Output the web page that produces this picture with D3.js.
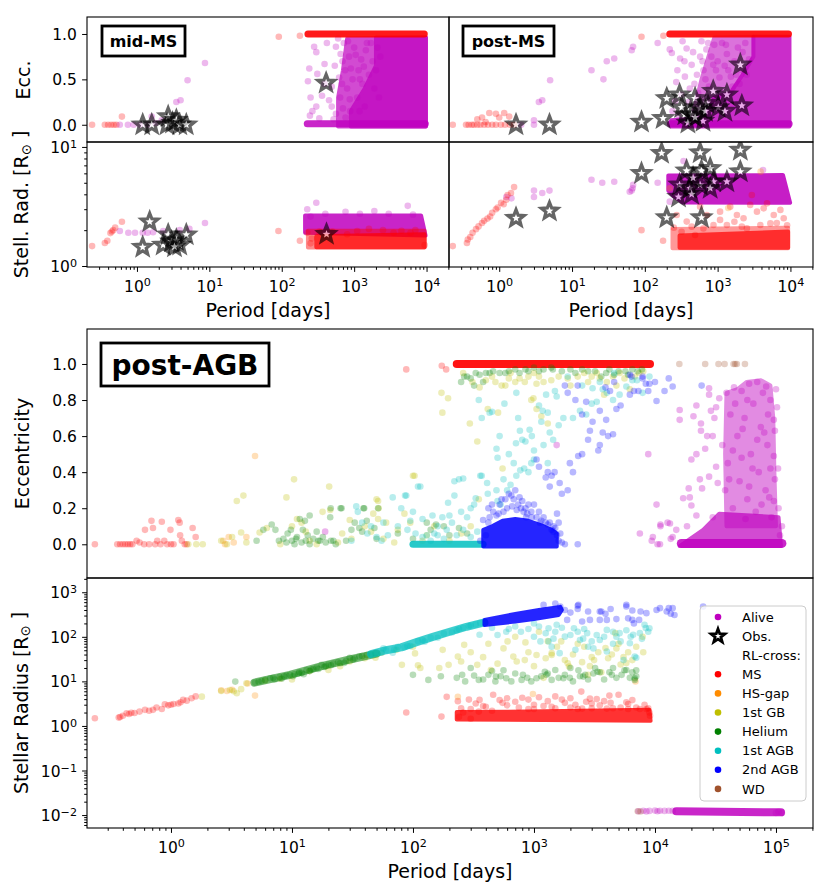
<!DOCTYPE html>
<html>
<head>
<meta charset="utf-8">
<title>Period - eccentricity - radius</title>
<script src="https://cdn.jsdelivr.net/npm/d3@7"></script>
<style>
  body { margin: 0; background: #fff; }
  svg { font-family: "DejaVu Sans", sans-serif; }
</style>
</head>
<body>
<svg id="fig" width="830" height="895"></svg>
<script>
// colours (matplotlib short names)
const C = {alive: "#bf00bf", ms: "#ff0000", hs: "#ff8c00", gb: "#bfbf00",
           he: "#008000", agb1: "#00bfbf", agb2: "#0000ff", wd: "#a0522d"};

// ticks
const periodTicksTop = [1, 10, 100, 1000, 10000];
const periodTicksBottom = [1, 10, 100, 1000, 10000, 100000];
const eccTicksTop = [0, 0.5, 1.0];
const eccTicksBottom = [0, 0.2, 0.4, 0.6, 0.8, 1.0];
const radTicksTop = [1, 10];
const radTicksBottom = [0.01, 0.1, 1, 10, 100, 1000];

// ---------------- mid-MS (top left) : [period days, value] ----------------
const midEccAlive = [[0.58,0],[0.75,0],[0.9,0],[1.1,0],[1.4,0],[1.6,0.09],[1.8,0.02],[2.2,0.05],[3.5,0.25],[4.0,0.27],[5.0,0.49],[8.7,0.68],
  [230,0.48],[240,0.62],[280,0.86],[300,0.8],[250,0.3],[265,0.15],[245,0.1],[310,0.56],[390,0.67],[450,0.27],[490,0.2],[490,0.42],[560,0.86],
  [620,0.52],[690,0.7],[820,0.92],[870,0.28],[760,0.08],[330,0.07],[560,0.12],[390,0.45],[950,0.5],[1050,0.77],[1100,0.3],[1190,0.15],
  [1360,0.64],[1500,0.9],[750,0.6],[800,0.4],[850,0.75],[1000,0.85],[1150,0.6],[1250,0.72],[1300,0.45],[1400,0.2],[1450,0.82],[1600,0.55],
  [1700,0.9],[1800,0.7],[1900,0.4],[2000,0.6],[2100,0.85],[2200,0.3],[2300,0.75],[640,0.3],[700,0.18],[900,0.62],[1200,0.5],
  [600,0.95],[720,0.9],[650,0.78],[540,0.65],[420,0.9],[360,0.32],[300,0.2],[520,0.06],[680,0.45],[880,0.15]];
const midEccAliveHalo = [[800,0.95],[9800,0.96],[9800,-0.02],[600,-0.02],[600,0.3],[700,0.6]];
const midEccAliveCore = [[2000,0.96],[9800,0.96],[9800,-0.02],[900,-0.02],[900,0.15],[1400,0.4],[2000,0.65]];
const midEccAliveBand = [[225,0.01],[9600,0.01]];
const midEccMS = [[0.24,0],[0.36,0],[0.4,0],[0.44,0],[0.48,0],[0.52,0],[0.62,0.09],[91,0.97],[178,0.98]];
const midEccMSBand = [[230,1.0],[9300,1.0]];
const midEccObs = [[1.2,0],[1.6,0],[2.6,0],[2.7,0.09],[3.1,0.02],[3.5,0.05],[3.9,0],[4.8,0],[410,0.46]];

const midRadAlive = [[0.58,1.97],[0.76,1.9],[0.94,1.9],[1.2,1.9],[1.4,1.9],[1.67,1.92],[2.3,1.97],[3.9,2.0],[5.3,2.05],[8.7,2.3],
  [225,3.0],[300,3.4],[760,2.85],[1900,2.9],[5500,3.2],[400,2.75],[1200,2.75],[3000,2.75],[250,2.6],[6500,2.7]];
const midRadAliveCore = [[210,2.66],[8400,2.66],[9700,1.8],[210,1.9]];
const midRadMS = [[0.24,1.47],[0.36,1.56],[0.39,1.63],[0.43,1.89],[0.45,1.95],[0.47,2.0],[0.5,2.1],[0.62,2.35],[90,1.97],[178,1.63],
  [225,1.9],[260,1.7],[330,1.95],[500,1.95],[1100,1.97],[1600,2.05],[2500,2.0],[4500,1.98],[6000,1.9],[7000,2.0],[800,1.85],[400,1.8],
  [3500,1.9],[250,1.55],[9400,1.5]];
const midRadMSHalo = [[230,1.98],[9400,1.98],[9400,1.43],[230,1.43]];
const midRadMSCore = [[300,1.78],[9400,1.85],[9400,1.44],[300,1.44]];
const midRadObs = [[1.5,2.35],[1.2,1.44],[2.3,1.5],[2.7,1.83],[3.0,1.6],[3.5,1.65],[3.9,1.5],[4.8,1.83],[3.3,1.45],[415,1.85]];

// ---------------- post-MS (top right) ----------------
const postEccAlive = [[2.0,0],[3.0,0.05],[3.0,0],[3.5,0.25],[3.9,0.27],[5.0,0.49],[18.5,0.6],[27,0.5],[30,0.7],[38,0.73],[66,0.82],[69,0.86],
  [150,0.9],[220,0.83],[235,0.79],[305,0.73],[375,0.84],[440,0.66],[355,0.53],[520,0.55],[575,0.75],[700,0.83],[870,0.66],[900,0.88],
  [415,0.4],[480,0.45],[1060,0.52],[1340,0.78],[1520,0.53],[270,0.47],[320,0.33],[260,0.26],[240,0.15],[290,0.1],[640,0.6],[760,0.42],
  [1150,0.9],[1250,0.65],[1700,0.7],[1900,0.85],[2100,0.6],[2400,0.9],[2700,0.72],[1100,0.35],[1600,0.42],[2000,0.45],[2500,0.55],
  [330,0.92],[600,0.92],[800,0.3],[950,0.6],[280,0.6],[350,0.7],[400,0.25],[460,0.8],[540,0.35],[620,0.7],[680,0.5],[740,0.9],
  [820,0.75],[1000,0.7],[1300,0.88],[1400,0.6],[1800,0.55],[2200,0.8]];
const postEccAliveHalo = [[900,0.96],[3100,0.97],[3100,0.75],[2200,0.55],[1500,0.35],[900,0.3],[700,0.08],[450,0.1],[600,0.5]];
const postEccAliveCore = [[3100,0.97],[9700,0.97],[9700,-0.02],[230,-0.02],[230,0.05],[700,0.08],[900,0.3],[1500,0.35],[2200,0.55],[3100,0.75]];
const postEccAliveBand = [[225,0.01],[9600,0.01]];
const postEccMS = [[0.23,0],[0.35,0],[0.38,0],[0.42,0],[0.45,0],[0.5,0],[0.55,0],[0.62,0],[0.7,0],[0.8,0],[0.9,0],[1.05,0],[1.2,0],[1.4,0],
  [1.6,0],[0.5,0.06],[0.58,0.08],[0.73,0.13],[0.9,0.12],[1.0,0.08],[1.17,0.13],[1.37,0.09],[0.65,0.03],[90,0.97],[180,0.98]];
const postEccMSBand = [[220,1.0],[9400,1.0]];
const postEccObs = [[1.7,0],[4.9,0],[90,0.03],[178,0.07],[200,0.29],[300,0.33],[355,0.11],[440,0.11],[490,0.29],[575,0.18],[710,0.24],
  [630,0.04],[390,0.02],[490,0.08],[870,0.37],[1340,0.33],[1020,0.19],[1260,0.15],[2150,0.21],[2050,0.66],[680,0.15],[320,0.19]];

const postRadAlive = [[1.25,3.8],[1.47,3.7],[3.0,4.3],[3.0,3.8],[3.9,4.1],[4.9,4.3],[18.5,5.3],[26,5.0],[38,5.1],[62,4.2],[66,4.3],[68,4.5],
  [69,4.8],[150,5.0],[220,3.47],[245,4.8],[340,7.6],[4200,6.4]];
const postRadAliveCore = [[210,5.75],[7900,5.8],[9900,3.4],[330,3.42],[250,3.85],[210,4.3]];
const postRadMS = [[0.23,1.47],[0.36,1.56],[0.37,1.67],[0.4,1.75],[0.43,1.9],[0.48,2.04],[0.52,2.15],[0.58,2.3],[0.62,2.4],[0.69,2.5],
  [0.75,2.6],[0.8,2.8],[0.9,3.0],[0.95,3.1],[1.06,3.4],[1.15,3.3],[1.25,3.6],[1.3,3.95],[1.45,4.1],[1.6,4.6],[90,2.0],[178,1.63],
  [274,2.68],[376,2.36],[574,3.15],[710,2.68],[1080,2.86],[1490,3.15],[1840,2.68],[2270,2.52],[2800,3.26],[3470,2.86],[4290,3.05],
  [5900,2.68],[7280,2.96],[8090,2.52],[5300,2.28],[3860,2.21],[2520,2.07],[1340,2.21],[877,2.21],[638,2.07],[440,2.14],[1080,2.44],
  [2150,2.14],[4770,3.36],[320,1.94],[490,1.82],[2950,3.95],[6500,2.3],[9000,2.2],[1700,2.35],[250,2.1]];
const postRadMSHalo = [[240,2.05],[9300,2.1],[9300,1.41],[240,1.41]];
const postRadMSCore = [[300,1.8],[9300,1.95],[9300,1.42],[300,1.42]];
const postRadHS = [[220,4.5],[1400,3.07],[3900,6.2]];
const postRadObs = [[1.7,2.52],[4.9,2.9],[170,8.85],[575,8.95],[2050,9.4],[90,6.0],[375,6.3],[600,6.3],[790,6.6],[2050,6.2],[300,4.8],
  [415,4.5],[575,4.8],[880,5.1],[1340,5.1],[790,4.5],[290,3.8],[440,4.0],[200,2.55],[600,2.55],[460,5.5]];

// ---------------- post-AGB (bottom) : eccentricity ----------------
const agbEccAlive = [[18.8,0.07],[1540,0.55],[7500,0.06],[8800,0.5],[10300,0.22],[9400,0.02],[9600,0.04],[10500,0],[11000,0],[11100,0.11],
  [11100,0.1],[12700,0.12],[13300,0.115],[13500,0.03],[14000,0.04],[15000,0.08],[16000,0.745],[16000,0.69],[17100,0.255],[18400,0.1],
  [19000,0.31],[19400,0.26],[20000,0.47],[20000,0.215],[20800,0.71],[22000,0.77],[22000,0.5],[22000,0.16],[23500,0.36],[24000,0.67],
  [24000,0.63],[24500,0.31],[26000,0.53],[27000,0.6],[28000,0.83],[28000,0.865],[28000,0.375],[29000,0.74],[30000,0.6],[30000,0.15],
  [31000,0.7],[32000,0.76],[32000,0.43],[33000,0.34],[34000,0.81],[39000,0.84],[60000,0.89],[83000,0.875],[100000,0.86],[102000,0.76],
  [96000,0.69],[98000,0.63],[104000,0.42],[96000,0.49],[98000,0.36],[96000,0.24],[45000,0.87],[52000,0.85],[70000,0.9],[90000,0.8],
  [42000,0.72],[48000,0.6],[55000,0.7],[65000,0.78],[75000,0.65],[85000,0.55],[40000,0.45],[50000,0.35],[62000,0.5],[72000,0.4],
  [82000,0.3],[92000,0.15],[44000,0.2],[58000,0.25],[68000,0.18],[36000,0.55],[38000,0.3],[105000,0.2],[108000,0.05],[112000,0.1],
  [46000,0.78],[53000,0.64],[58000,0.8],[64000,0.42],[78000,0.84],[86000,0.72],[44000,0.52],[52000,0.48],[70000,0.58],[80000,0.62],
  [90000,0.42],[60000,0.32],[76000,0.22],[88000,0.26],[41000,0.36],[56000,0.14]];
const agbEccAliveCore = [[39000,0.84],[48000,0.86],[57000,0.9],[75000,0.91],[90000,0.88],[95000,0.7],[97000,0.4],[100000,0.1],[39000,0.1],[38000,0.5]];
const agbEccAliveLow = [[16000,-0.01],[110000,-0.01],[105000,0.15],[34000,0.17],[25000,0.08]];
const agbEccAliveBand = [[16500,0.005],[112000,0.005]];
const agbEccMS = [[0.235,0],[0.36,0],[0.38,0],[0.4,0],[0.42,0],[0.44,0],[0.46,0],[0.48,0],[0.52,0.02],[0.55,0.01],[0.6,0],[0.61,0.08],
  [0.66,0],[0.69,0.13],[0.71,0.09],[0.74,0],[0.77,0.02],[0.82,0],[0.84,0.125],[0.88,0.02],[0.93,0],[0.99,0.08],[1.0,0],[1.05,0],
  [1.15,0.135],[1.18,0.12],[1.19,0.05],[1.23,0.02],[1.3,0],[1.35,0],[1.51,0.09],[1.6,0.04],[88,0.97],[173,0.99],[188,0.97]];
const agbEccMSBand = [[230,1.0],[9100,1.0]];
const agbEccHS = [[2.7,0.02],[2.8,0],[3.0,0.04],[3.3,0.01],[4.2,0.04],[4.95,0.49]];
const agbEccGB = [[1.39,0],[1.62,0],[1.83,0],[2.6,0.02],[2.9,0],[3.2,0.04],[3.8,0.065],[3.5,0.24],[3.97,0.27],[4.2,0.01],[5.4,0.065],
  [6.2,0.09],[8,0],[9.0,0.26],[10.4,0.36],[10,0.1],[11,0.14],[12,0.12],[13,0.07],[14,0.02],[16,0],[17.9,0.18],[20.3,0.32],[20.7,0.19],
  [24,0.01],[26,0.06],[30,0.135],[31,0.03],[40,0.1],[45,0.07],[47,0.17],[50,0.25],[51.5,0.24],[51.5,0.14],[52,0.2],[57,0.03],[60,0.12],
  [70,0.01],[75,0.08],[85,0.17],[95,0.12],[100,0.38],[103,0.38],[120,0.02],[130,0.05],[150,0.1],[200,0.02],[250,0.06],[300,0.1],
  [350,0.25],[172,0.84],[195,0.81],[175,0.73],[340,0.57],[295,0.67],[355,0.87],[415,0.75],[505,0.73],[540,0.88],[580,0.88],[700,0.9],
  [840,0.9],[990,0.81],[1050,0.89],[1200,0.9],[1390,0.91],[550,0.42],[950,0.8],[1050,0.75],[1300,0.67],[1150,0.71],[5100,0.95],
  [7400,0.95],[6200,0.86],[3000,0.93],[3500,0.92],[4000,0.9],[2600,0.95],[640,0.95],[450,0.93],[260,0.95],
  [310,0.9],[400,0.91],[480,0.9],[620,0.92],[760,0.92],[900,0.93],[1100,0.93],[1600,0.93],[1900,0.92],[2300,0.93],[2800,0.9],
  [3300,0.95],[4500,0.93],[5600,0.92],[6800,0.93],[8000,0.96],[1000,0.95],[2000,0.88],[3800,0.83],[4800,0.88]];
const agbEccHe = [[5.1,0.02],[5.8,0.08],[6.8,0.11],[7.3,0.08],[7.8,0.02],[8.5,0.03],[9,0.01],[9.2,0.06],[9.8,0.08],[10,0.02],[10.5,0],
  [10.8,0.03],[11,0.04],[11.6,0.14],[12,0.01],[12.3,0.08],[12.8,0.13],[13,0.02],[13.5,0.05],[14,0.16],[14,0],[15,0.03],[16,0.07],
  [16.5,0.02],[17,0.02],[18,0.04],[19,0.01],[20.7,0.15],[20.9,0.2],[21,0.02],[22,0.02],[23,0],[25.2,0.2],[25.7,0.2],[28,0.02],[31,0.08],
  [33,0.12],[36,0.09],[38,0.07],[39,0.2],[39.5,0.2],[41.5,0.13],[48,0.09],[50,0.03],[51.5,0.2],[75,0.06],[100,0.03],[130,0.12],[140,0.08],
  [155,0.11],[180,0.1],[200,0.05],[240,0.09],[280,0.06],
  [250,0.9],[265,0.93],[280,0.93],[355,0.94],[400,0.95],[430,0.95],[520,0.95],[580,0.95],[700,0.97],[850,0.97],[1000,0.98],[1200,0.97],
  [1390,0.98],[1430,0.97],[2000,0.97],[2500,0.97],[3200,0.96],[3600,0.93],[3950,0.95],[4600,0.94],[5700,0.96],[6500,0.97],[7200,0.96],
  [300,0.92],[330,0.95],[460,0.96],[620,0.96],[760,0.95],[900,0.96],[1100,0.96],[1700,0.96],[2200,0.95],[2800,0.96],[4200,0.97],
  [5000,0.96],[6000,0.94],[7800,0.97],[320,0.88],[380,0.9]];
const agbEccAGB1 = [[31,0.02],[34,0.21],[35,0.18],[38,0.12],[42,0.06],[45,0.1],[50,0.04],[55,0.02],[57,0.12],[62,0.05],[68,0.26],[75,0.1],
  [80,0.2],[86,0.27],[88,0.27],[90,0.08],[95,0.13],[100,0.18],[105,0.06],[110,0.32],[115,0.32],[120,0.14],[130,0.05],[145,0.16],[160,0.1],
  [175,0.15],[190,0.08],[195,0.23],[210,0.12],[220,0.35],[220,0.27],[240,0.36],[260,0.365],[280,0.15],[300,0.2],[320,0.22],[330,0.255],
  [360,0.38],[370,0.38],[410,0.34],[415,0.28],[490,0.3],[500,0.24],[530,0.22],[560,0.36],[600,0.3],[640,0.33],[715,0.38],[770,0.41],
  [830,0.42],[900,0.4],[950,0.45],[1000,0.47],
  [350,0.8],[370,0.7],[430,0.73],[450,0.735],[490,0.53],[500,0.48],[520,0.6],[570,0.78],[620,0.5],[680,0.45],[710,0.56],[715,0.84],
  [740,0.7],[765,0.63],[800,0.58],[850,0.57],[920,0.635],[960,0.6],[1000,0.52],[1100,0.77],[1150,0.68],[1180,0.74],[1200,0.55],
  [1260,0.83],[1300,0.73],[1300,0.45],[1350,0.62],[1440,0.58],[1490,0.85],[1540,0.82],[1600,0.66],[1750,0.7],[1900,0.93],[2100,0.7],
  [2400,0.74],[2500,0.88],[2700,0.72],[3000,0.78],[3050,0.865],[3300,0.79],[3500,0.9],[3700,0.86],[4000,0.84],[4500,0.8],[4600,0.95],
  [5100,0.83],[5800,0.875],[6500,0.91],[7100,0.91],[7900,0.84],[9000,0.93],
  [120,0.04],[140,0.02],[160,0.05],[180,0.03],[230,0.05],[260,0.08],[300,0.04],[340,0.07],[200,0.16],[250,0.18],[150,0.06]];
const agbEccAGB1Band = [[100,0.0],[380,0.0]];
const agbEccAGB2 = [[380,0.135],[420,0.12],[460,0.18],[490,0.16],[520,0.22],[560,0.18],[580,0.25],[650,0.27],[700,0.3],[760,0.26],
  [800,0.24],[850,0.2],[900,0.22],[1000,0.22],[1100,0.18],[1200,0.15],[1350,0.12],[1450,0.1],[1550,0.05],[1600,0.02],[1800,0],[2300,0],
  [1050,0.47],[1100,0.43],[1480,0.4],[1250,0.37],[1350,0.32],[1550,0.17],[1630,0.34],[1400,0.38],[1300,0.4],[1700,0.28],[1900,0.3],
  [2100,0.4],[1980,0.45],[2320,0.49],[2500,0.5],[2800,0.58],[3500,0.55],[3400,0.52],[3700,0.62],[4100,0.6],[4500,0.61],[3950,0.69],
  [4800,0.75],[5200,0.77],[6200,0.83],[6700,0.85],[7300,0.85],[8400,0.89],[7900,0.93],[6400,0.93],[4250,0.85],[4600,0.9],[3500,0.74],
  [3050,0.68],[2900,0.63],[2500,0.72],[2700,0.79],[2200,0.8],[1900,0.84],[1800,0.88],[2300,0.88],[3900,0.87],[6200,0.94],[7900,0.92],
  [9000,0.89],[8800,0.85],[10000,0.9],[10300,0.795],[12000,0.85],[14000,0.875],[13000,0.92],[24300,0.88],
  [420,0.2],[450,0.22],[540,0.25],[620,0.28],[680,0.25],[740,0.22],[820,0.18],[880,0.17],[950,0.18],[1050,0.15],[1150,0.13],
  [1250,0.12],[1400,0.08],[1500,0.09],[1650,0.06],[1700,0.01],[1600,0.12],[400,0.05],[360,0.02],
  [430,0.15],[510,0.17],[600,0.2],[660,0.21],[720,0.19],[780,0.2],[860,0.15],[960,0.15],[1120,0.12],[1300,0.11],[1450,0.07]];
const agbEccAGB2Core = [[381,-0.012],[1543,-0.012],[1543,0.06],[1400,0.08],[1200,0.1],[900,0.13],[700,0.14],[550,0.13],[450,0.1],[381,0.08]];
const agbEccWD = [[15900,1.0],[26000,1.0],[33500,1.0],[37600,1.0],[44600,1.0],[46000,1.0],[47500,1.0],[55400,1.0]];

// ---------------- post-AGB (bottom) : stellar radius ----------------
const agbRadAlive = [[7300,0.0122],[8000,0.0125],[8500,0.0121],[9000,0.0124],[10000,0.0126],[10500,0.0122],[11000,0.0125],[12000,0.0124],
  [13000,0.0125],[14000,0.0124],[100000,0.0112],[105000,0.0118],[112000,0.0112]];
const agbRadAliveBand = [[15000,0.0122],[110000,0.0115]];
const agbRadMS = [[0.235,1.49],[0.37,1.54],[0.38,1.58],[0.4,1.7],[0.43,1.93],[0.45,1.85],[0.47,1.97],[0.5,1.95],[0.55,2.1],[0.61,2.3],
  [0.66,2.2],[0.71,2.3],[0.76,2.6],[0.84,2.4],[0.89,3.07],[0.95,2.9],[1.0,3.0],[1.05,3.1],[1.15,3.2],[1.2,3.4],[1.26,3.84],[1.35,3.7],
  [1.48,4.2],[1.6,4.6],[88,2.0],[172,1.62],
  [190,4.5],[235,3.6],[290,3.9],[355,3.84],[460,5.0],[520,3.8],[600,4.2],[700,3.5],[800,4.3],[900,3.9],[1100,4.4],[1300,3.6],[1500,4.6],
  [1700,3.9],[2000,4.2],[2460,5.9],[2700,3.5],[3000,3.2],[3300,4.0],[3800,3.6],[4200,4.8],[5000,5.0],[5800,3.4],[6500,3.8],[8200,3.0],
  [2200,3.0],[1200,2.8],[600,2.9],[400,2.7],[7000,2.6],[4500,2.5],[3000,2.5],[2000,2.6],[900,2.4],[300,2.4],
  [240,1.6],[260,2.0],[300,1.45],[350,2.1],[450,2.2],[1000,2.4],[1500,2.5],[2500,2.45],[4000,2.45],[6000,2.4],[8500,2.4],[9100,1.7],[9000,2.0],
  [250,2.5],[330,3.2],[380,2.8],[550,3.3],[750,2.6],[1000,3.0],[1400,2.7],[1800,3.3],[2300,2.4],[2900,4.1],[3500,2.9],[4300,3.3],
  [5200,2.6],[6000,3.1],[7500,2.4],[8800,2.5]];
const agbRadMSCore = [[230,2.05],[900,2.1],[9000,2.3],[9200,1.3],[230,1.4]];
const agbRadHS = [[2.6,6.3],[2.9,6.1],[3.2,6.5],[4.3,9.0],[4.95,4.8],[235,4.5],[980,5.2],[6900,10]];
const agbRadGB = [[1.8,4.55],[2.6,6.1],[3.07,6.4],[3.3,6.0],[3.5,5.4],[3.8,6.7],[4.2,9.1],[6,10.5],[8,11.5],[10,11],[14,17],[20,18],
  [25,22],[30,28],[40,33],[49,34],[104,42.5],[73,51],[81,23.5],[100,60],[110,23],[115,20],
  [176,51],[197,23.5],[265,66],[340,23.5],[605,79],[675,36],[440,18],[840,30],[1050,39],[1400,43],[1680,79],[1950,21.6],[3140,30],
  [3900,56],[4700,121],[7000,60],[7900,100],[4100,33],[5200,24],[1400,39],[1900,25.5],[2500,27],[3000,35],[5800,26],[6000,45],[4800,55],
  [1200,12],[2800,14],[3600,16],[420,70],[850,75],[1300,80],[2600,60],[235,36],[165,20],
  [250,28],[300,45],[380,35],[500,25],[560,55],[720,28],[900,45],[1000,22],[1250,33],[1550,60],[1800,30],[2100,40],[2300,70],[2900,22],
  [3400,45],[4400,40],[5000,70],[5500,35],[6500,30],[8000,45],[700,100],[1100,130]];
const agbRadHe = [[3.4,9.9],[4.95,9.4],[5.3,9.8],[5.6,10.2],[6.6,11.8],[7.2,11],[7.9,12.6],[8.6,13],[9.6,14],[10.5,14.5],[11.3,15],
  [12,15.5],[13.2,18],[14,17],[15,19],[16,20.5],[17.6,23.5],[19,22],[20,24],[22,25],[25,25.5],[28,29],[30,34],[33,33],[36,36],
  [41.5,39],[45,40],[49,43],[55,44],
  [6,10.8],[7,12],[8.2,11.5],[9,13.5],[10.2,13],[11.5,16],[12.5,14.5],[14.5,18.5],[16.5,19],[18.5,21],[21,23],[24,27],[27,26],[32,31],[38,37],
  [100,14],[134,10.8],[170,13],[255,14],[350,10.8],[485,12.8],[560,17.8],[590,11.8],[790,10.8],[810,14],[1050,11.8],[1230,16.4],
  [1270,14],[1400,10.8],[1500,18],[1750,11.8],[1980,12],[2330,17.8],[2550,12.8],[2650,14],[3350,16.4],[3500,16],[4400,14],[5600,17.8],
  [5800,18],[6800,10.8],[7000,17.8],[6800,11.8],[300,20],[450,17],[2000,20],[3200,20],[4500,20],
  [230,12],[270,10],[320,13.5],[380,11],[420,14],[480,10],[530,13],[650,10],[700,15],[880,12],[950,10],[1150,13],[1300,15],[1600,12],
  [1800,14],[2100,10],[2400,13],[2800,11],[3100,15],[3800,11],[4200,16],[4800,12],[5300,14],[6200,12],[6500,16],[7000,13]];
const agbRadHeBand = [[4.9,9.4],[9.6,14],[17.6,22],[30,31],[50,42]];
const agbRadAGB1 = [[57,55],[68,44],[90,62],[120,85],[60,50],[85,58],[160,95],[230,140],[300,180],
  [70,52],[75,60],[95,62],[110,80],[125,78],[140,95],[180,118],[210,125],[240,150],[260,160],[290,175],[330,190],[360,205],
  [355,111],[590,130],[780,130],[1130,79],[1630,43],[2200,51],[2550,91],[5200,79],[7000,34],[8400,157],
  [1320,156],[1540,186],[1800,101],[2140,156],[2750,121],[3000,79],[3500,85],[4000,143],[4800,101],[5100,121],[6600,111],[7500,121],
  [9000,156],[8200,186],[1320,79],[1450,91],[2400,85],[3100,55],[4000,47],[6200,72],[6800,36],[5500,30],[450,160],[700,170],[1000,200],
  [500,110],[620,150],[900,150],[1100,170],[1250,120],[1500,130],[1700,160],[2000,110],[2300,130],[2600,150],[3300,110],[3800,100],
  [4500,130],[5800,140],[6300,100],[7800,90],[8800,130],[1000,100],[1400,60],[2800,60],[4500,70]];
const agbRadAGB1Band = [[45,41],[60,50],[80,58],[107,76],[146,100],[201,130],[277,168],[390,210]];
const agbRadAGB2 = [[1650,480],[2300,500],[2330,525],[2300,420],[2800,370],[3500,370],[3600,370],[3900,330],[4300,420],[5800,480],
  [5800,525],[6500,390],[7400,240],[7600,370],[8500,340],[10300,400],[11000,440],[12500,370],[13000,440],[14000,440],[13500,330],
  [14500,310],[25000,480],[2000,350],[2500,220],[3500,240],[4800,250],[6500,240],[1880,240],[2900,240],[4000,240],[6000,260],[6700,200],
  [1200,520],[1500,560],[1800,400]];
const agbRadAGB2Core = [[390,240],[720,330],[1100,400],[1650,470],[1700,400],[1600,310],[1000,250],[700,220],[390,185]];
const agbRadWD = [[7200,0.0122],[7600,0.012]];

// legend
const legendItems = [
  {label: "Alive", kind: "dot", color: C.alive},
  {label: "Obs.", kind: "star"},
  {label: "RL-cross:", kind: "none"},
  {label: "MS", kind: "dot", color: C.ms},
  {label: "HS-gap", kind: "dot", color: C.hs},
  {label: "1st GB", kind: "dot", color: C.gb},
  {label: "Helium", kind: "dot", color: C.he},
  {label: "1st AGB", kind: "dot", color: C.agb1},
  {label: "2nd AGB", kind: "dot", color: C.agb2},
  {label: "WD", kind: "dot", color: C.wd}
];

// ------------------------------------------------------------------
const svg = d3.select("#fig");
const defs = svg.append("defs");
let clipN = 0;

function panel(px, py, xDom, yDom, yLog) {
  const x = d3.scaleLog().domain(xDom).range(px);
  const y = (yLog ? d3.scaleLog() : d3.scaleLinear()).domain(yDom).range([py[1], py[0]]);
  const id = "clip" + (clipN++);
  defs.append("clipPath").attr("id", id).append("rect")
    .attr("x", px[0]).attr("y", py[0]).attr("width", px[1] - px[0]).attr("height", py[1] - py[0]);
  const g = svg.append("g").attr("clip-path", "url(#" + id + ")");
  return {x, y, g, px, py};
}

function lineOf(p) { return d3.line().x(d => p.x(d[0])).y(d => p.y(d[1])); }

function dots(p, data, color, op = 0.28) {
  p.g.append("g").selectAll("circle").data(data).join("circle")
    .attr("cx", d => p.x(d[0])).attr("cy", d => p.y(d[1])).attr("r", 3.3)
    .attr("fill", color).attr("fill-opacity", op);
}
function region(p, poly, color, op) {
  p.g.append("path").datum(poly).attr("d", lineOf(p).curve(d3.curveLinearClosed))
    .attr("fill", color).attr("stroke", color).attr("stroke-width", 4)
    .attr("stroke-linejoin", "round").attr("opacity", op);
}
function band(p, pts, color, w, op) {
  p.g.append("path").datum(pts).attr("d", lineOf(p))
    .attr("fill", "none").attr("stroke", color).attr("stroke-width", w)
    .attr("stroke-linecap", "round").attr("stroke-linejoin", "round").attr("opacity", op);
}
function starPath(ro, ri) {
  const pts = d3.range(10).map(i => {
    const a = -Math.PI / 2 + i * Math.PI / 5, r = i % 2 ? ri : ro;
    return [r * Math.cos(a), r * Math.sin(a)];
  });
  return "M" + pts.join("L") + "Z";
}
function stars(p, data) {
  p.g.append("g").selectAll("path").data(data).join("path")
    .attr("d", starPath(8.6, 3.7))
    .attr("transform", d => "translate(" + p.x(d[0]) + "," + p.y(d[1]) + ")")
    .attr("fill", "#fff").attr("stroke", "#000").attr("stroke-width", 3.2)
    .attr("stroke-linejoin", "miter").attr("opacity", 0.6);
}
function frame(p) {
  svg.append("rect").attr("x", p.px[0]).attr("y", p.py[0])
    .attr("width", p.px[1] - p.px[0]).attr("height", p.py[1] - p.py[0])
    .attr("fill", "none").attr("stroke", "#000").attr("stroke-width", 1.1);
}

const isDecade = v => Math.abs(Math.log10(v) - Math.round(Math.log10(v))) < 1e-9;
function powLabel(sel, v) {
  const e = Math.round(Math.log10(v));
  sel.text("10").append("tspan").attr("dy", "-0.45em").attr("font-size", "0.72em")
    .text(e < 0 ? "\u2212" + (-e) : String(e));
}
function styleAxis(g) {
  g.attr("font-family", "DejaVu Sans, sans-serif").attr("font-size", 15.5);
  g.select(".domain").remove();
  g.selectAll(".tick line").attr("stroke-width", 1);
}
function xAxis(p, yPos, majors) {
  const minors = p.x.ticks().filter(v => !isDecade(v));
  svg.append("g").attr("transform", "translate(0," + yPos + ")")
    .call(d3.axisBottom(p.x).tickValues(minors).tickSize(2.8).tickFormat(() => ""))
    .call(styleAxis);
  const g = svg.append("g").attr("transform", "translate(0," + yPos + ")")
    .call(d3.axisBottom(p.x).tickValues(majors).tickSize(4.9).tickFormat(() => ""))
    .call(styleAxis);
  g.selectAll(".tick text").attr("y", 24.5).attr("dy", null)
    .each(function(d) { powLabel(d3.select(this), d); });
}
function yAxisLog(p, majors) {
  const minors = p.y.ticks().filter(v => !isDecade(v));
  svg.append("g").attr("transform", "translate(" + p.px[0] + ",0)")
    .call(d3.axisLeft(p.y).tickValues(minors).tickSize(2.8).tickFormat(() => ""))
    .call(styleAxis);
  const g = svg.append("g").attr("transform", "translate(" + p.px[0] + ",0)")
    .call(d3.axisLeft(p.y).tickValues(majors).tickSize(4.9).tickFormat(() => ""))
    .call(styleAxis);
  g.selectAll(".tick text").attr("x", -10).attr("dy", "0.36em")
    .each(function(d) { powLabel(d3.select(this), d); });
}
function yAxisLin(p, ticks) {
  svg.append("g").attr("transform", "translate(" + p.px[0] + ",0)")
    .call(d3.axisLeft(p.y).tickValues(ticks).tickSize(4.9).tickPadding(5.2).tickFormat(d3.format(".1f")))
    .call(styleAxis)
    .selectAll(".tick text").attr("dy", "0.36em");
}
function tag(x, y, w, h, label, size) {
  svg.append("rect").attr("x", x).attr("y", y).attr("width", w).attr("height", h)
    .attr("fill", "#fff").attr("stroke", "#000").attr("stroke-width", 2.8);
  svg.append("text").attr("x", x + w / 2).attr("y", y + h / 2 + size * 0.36)
    .attr("text-anchor", "middle").attr("font-weight", "bold").attr("font-size", size).text(label);
}
function yLabel(x, y, parts) {
  const t = svg.append("text").attr("transform", "translate(" + x + "," + y + ") rotate(-90)")
    .attr("text-anchor", "middle").attr("font-size", 19);
  t.append("tspan").text(parts[0]);
  if (parts.length > 1) {
    t.append("tspan").attr("font-size", "0.7em").attr("dy", "0.22em").text(parts[1]);
    t.append("tspan").attr("dy", "-0.22em").text(parts[2]);
  }
}
function xLabel(x, y, s) {
  svg.append("text").attr("x", x).attr("y", y).attr("text-anchor", "middle").attr("font-size", 19).text(s);
}

// ---------------- top panels ----------------
const xTop = [Math.pow(10, -0.69), Math.pow(10, 4.31)];
const eccTop = [-0.19, 1.187];
const radTop = [0.981, 11.0];

// mid-MS ecc
let p = panel([87, 449], [17, 142], xTop, eccTop, false);
region(p, midEccAliveHalo, C.alive, 0.7);
region(p, midEccAliveCore, C.alive, 0.7);
band(p, midEccAliveBand, C.alive, 7, 0.85);
dots(p, midEccAlive, C.alive);
band(p, midEccMSBand, C.ms, 7, 0.9);
dots(p, midEccMS, C.ms);
stars(p, midEccObs);
frame(p);
yAxisLin(p, eccTicksTop);

// mid-MS radius
p = panel([87, 449], [142, 267], xTop, radTop, true);
region(p, midRadAliveCore, C.alive, 0.85);
dots(p, midRadAlive, C.alive);
region(p, midRadMSHalo, C.ms, 0.45);
region(p, midRadMSCore, C.ms, 0.7);
dots(p, midRadMS, C.ms);
stars(p, midRadObs);
frame(p);
yAxisLog(p, radTicksTop);
xAxis(p, 267, periodTicksTop);

// post-MS ecc
p = panel([449, 813], [17, 142], xTop, eccTop, false);
region(p, postEccAliveHalo, C.alive, 0.55);
region(p, postEccAliveCore, C.alive, 0.82);
band(p, postEccAliveBand, C.alive, 7, 0.85);
dots(p, postEccAlive, C.alive);
band(p, postEccMSBand, C.ms, 7, 0.9);
dots(p, postEccMS, C.ms);
stars(p, postEccObs);
frame(p);

// post-MS radius
p = panel([449, 813], [142, 267], xTop, radTop, true);
region(p, postRadAliveCore, C.alive, 0.88);
dots(p, postRadAlive, C.alive);
region(p, postRadMSHalo, C.ms, 0.4);
region(p, postRadMSCore, C.ms, 0.7);
dots(p, postRadMS, C.ms);
dots(p, postRadHS, C.hs);
stars(p, postRadObs);
frame(p);
xAxis(p, 267, periodTicksTop);

tag(102, 26, 83, 30, "mid-MS", 16);
tag(463, 26, 91, 30, "post-MS", 16);

// ---------------- bottom panels ----------------
const xBot = [Math.pow(10, -0.694), Math.pow(10, 5.306)];

p = panel([87, 813], [329, 578], xBot, [-0.187, 1.194], false);
region(p, agbEccAliveCore, C.alive, 0.45);
region(p, agbEccAliveLow, C.alive, 0.7);
band(p, agbEccAliveBand, C.alive, 9, 0.85);
dots(p, agbEccAlive, C.alive, 0.3);
band(p, agbEccMSBand, C.ms, 8, 0.92);
dots(p, agbEccMS, C.ms);
dots(p, agbEccHS, C.hs);
dots(p, agbEccGB, C.gb);
dots(p, agbEccHe, C.he);
band(p, agbEccAGB1Band, C.agb1, 7, 0.85);
dots(p, agbEccAGB1, C.agb1);
region(p, agbEccAGB2Core, C.agb2, 0.85);
dots(p, agbEccAGB2, C.agb2);
dots(p, agbEccWD, C.wd);
frame(p);
yAxisLin(p, eccTicksBottom);

p = panel([87, 813], [578, 828], xBot, [Math.pow(10, -2.29), Math.pow(10, 3.32)], true);
band(p, agbRadAliveBand, C.alive, 8, 0.85);
dots(p, agbRadAlive, C.alive);
region(p, agbRadMSCore, C.ms, 0.8);
dots(p, agbRadMS, C.ms);
dots(p, agbRadHS, C.hs);
dots(p, agbRadGB, C.gb);
band(p, agbRadHeBand, C.he, 8, 0.55);
dots(p, agbRadHe, C.he);
band(p, agbRadAGB1Band, C.agb1, 8, 0.75);
dots(p, agbRadAGB1, C.agb1);
region(p, agbRadAGB2Core, C.agb2, 0.85);
dots(p, agbRadAGB2, C.agb2);
dots(p, agbRadWD, C.wd);
frame(p);
yAxisLog(p, radTicksBottom);
xAxis(p, 828, periodTicksBottom);

tag(101, 343, 168, 43, "post-AGB", 28);

// legend
const lg = svg.append("g");
lg.append("rect").attr("x", 700).attr("y", 606).attr("width", 106).attr("height", 195)
  .attr("rx", 4).attr("fill", "#fff").attr("fill-opacity", 0.8).attr("stroke", "#ccc").attr("stroke-width", 1);
const rows = lg.selectAll("g.row").data(legendItems).join("g")
  .attr("transform", (d, i) => "translate(0," + (617 + i * 19.1) + ")");
rows.filter(d => d.kind === "dot").append("circle").attr("cx", 718).attr("cy", 0).attr("r", 3.3).attr("fill", d => d.color);
rows.filter(d => d.kind === "star").append("path").attr("d", starPath(7.2, 3.0))
  .attr("transform", "translate(718,0)").attr("fill", "#fff").attr("stroke", "#000").attr("stroke-width", 2.8);
rows.append("text").attr("x", 742).attr("y", 0).attr("dy", "0.36em").attr("font-size", 13).text(d => d.label);

// axis labels
yLabel(30, 80, ["Ecc."]);
yLabel(28, 204.5, ["Stell. Rad. [R", "\u2299", " ]"]);
xLabel(268, 317, "Period [days]");
xLabel(631, 317, "Period [days]");
yLabel(29, 453.5, ["Eccentricity"]);
yLabel(27.5, 703, ["Stellar Radius [R", "\u2299", " ]"]);
xLabel(450, 878, "Period [days]");
</script>
</body>
</html>
